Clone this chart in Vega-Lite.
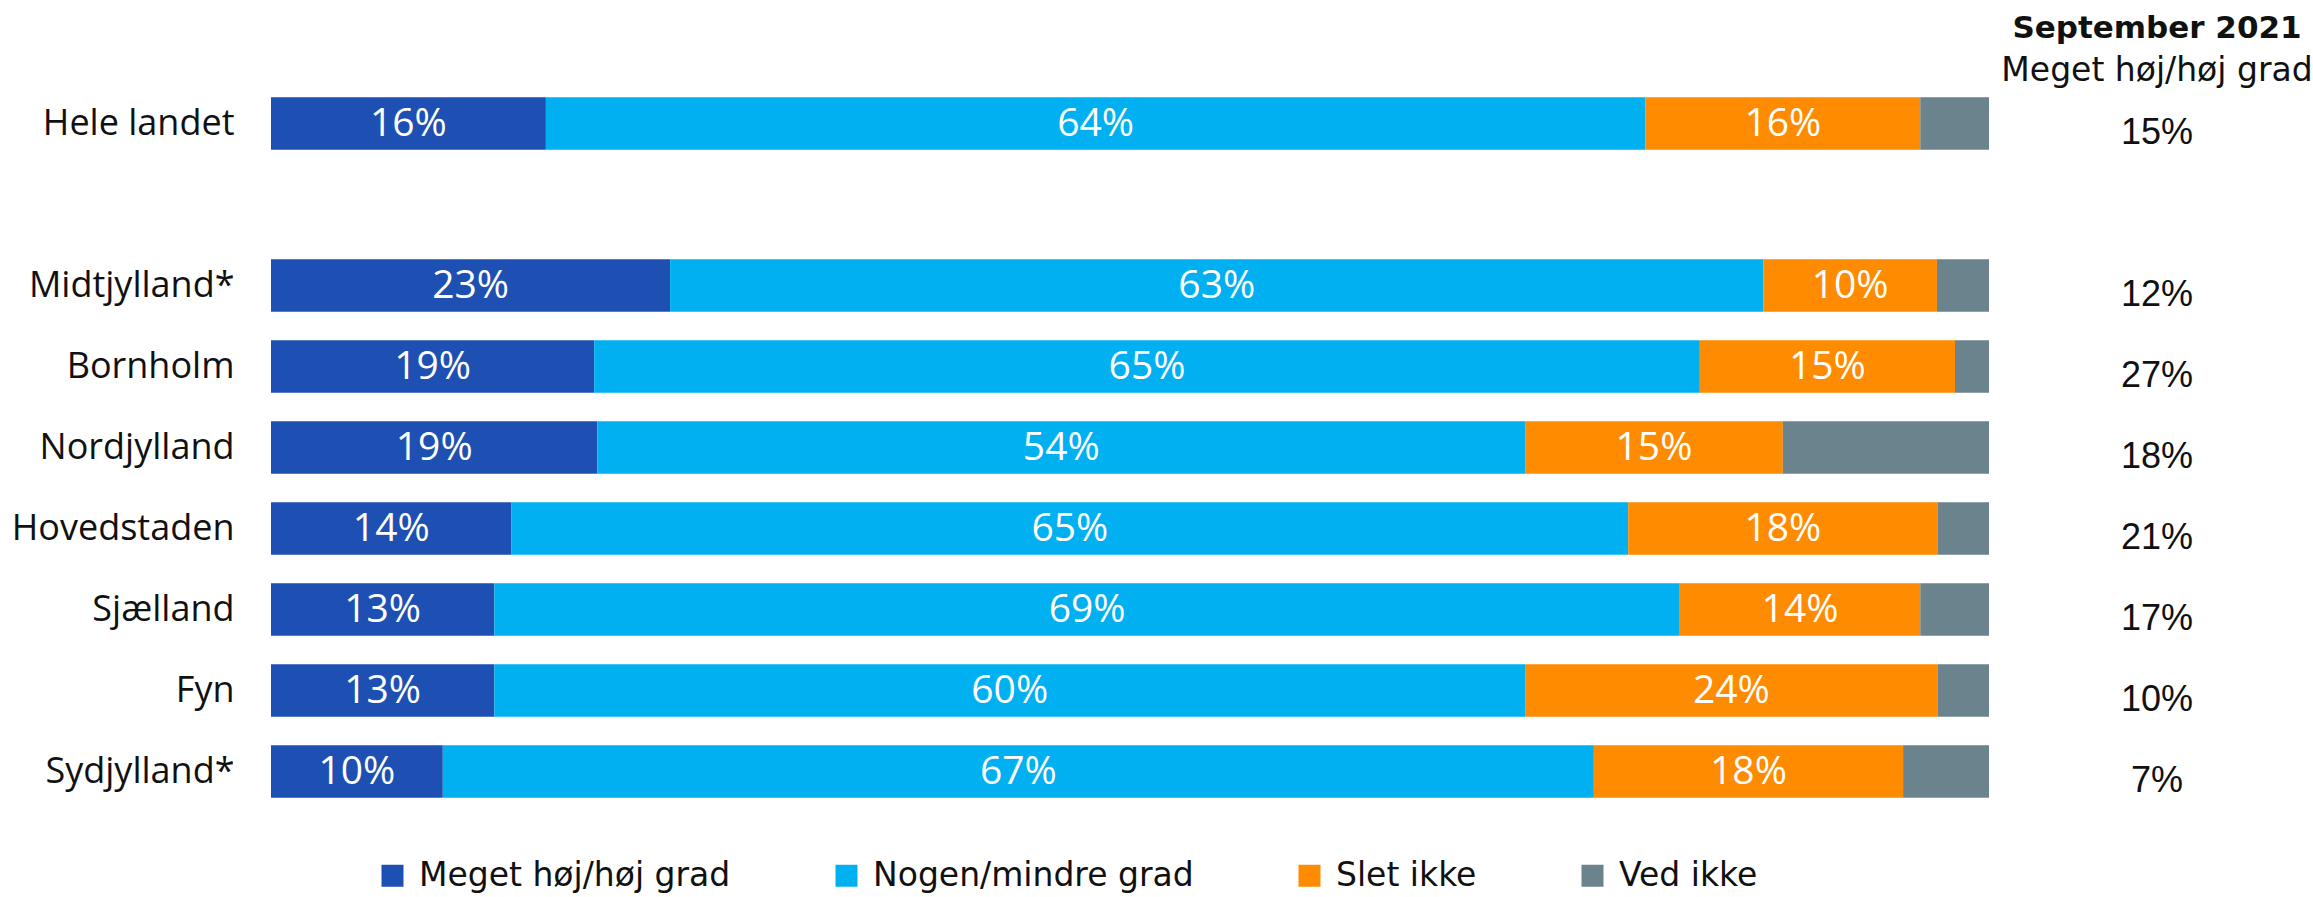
{
  "$schema": "https://vega.github.io/schema/vega-lite/v6.json",
  "background": "white",
  "padding": {"left": 11, "top": 13, "right": 0, "bottom": 0},
  "bounds": "flush",
  "spacing": 18,
  "datasets": {
    "bars": [
      {"region": "Hele landet", "category": "Meget høj/høj grad", "value": 16, "label": "16%"},
      {"region": "Hele landet", "category": "Nogen/mindre grad", "value": 64, "label": "64%"},
      {"region": "Hele landet", "category": "Slet ikke", "value": 16, "label": "16%"},
      {"region": "Hele landet", "category": "Ved ikke", "value": 4, "label": ""},
      {"region": "Midtjylland*", "category": "Meget høj/høj grad", "value": 23, "label": "23%"},
      {"region": "Midtjylland*", "category": "Nogen/mindre grad", "value": 63, "label": "63%"},
      {"region": "Midtjylland*", "category": "Slet ikke", "value": 10, "label": "10%"},
      {"region": "Midtjylland*", "category": "Ved ikke", "value": 3, "label": ""},
      {"region": "Bornholm", "category": "Meget høj/høj grad", "value": 19, "label": "19%"},
      {"region": "Bornholm", "category": "Nogen/mindre grad", "value": 65, "label": "65%"},
      {"region": "Bornholm", "category": "Slet ikke", "value": 15, "label": "15%"},
      {"region": "Bornholm", "category": "Ved ikke", "value": 2, "label": ""},
      {"region": "Nordjylland", "category": "Meget høj/høj grad", "value": 19, "label": "19%"},
      {"region": "Nordjylland", "category": "Nogen/mindre grad", "value": 54, "label": "54%"},
      {"region": "Nordjylland", "category": "Slet ikke", "value": 15, "label": "15%"},
      {"region": "Nordjylland", "category": "Ved ikke", "value": 12, "label": ""},
      {"region": "Hovedstaden", "category": "Meget høj/høj grad", "value": 14, "label": "14%"},
      {"region": "Hovedstaden", "category": "Nogen/mindre grad", "value": 65, "label": "65%"},
      {"region": "Hovedstaden", "category": "Slet ikke", "value": 18, "label": "18%"},
      {"region": "Hovedstaden", "category": "Ved ikke", "value": 3, "label": ""},
      {"region": "Sjælland", "category": "Meget høj/høj grad", "value": 13, "label": "13%"},
      {"region": "Sjælland", "category": "Nogen/mindre grad", "value": 69, "label": "69%"},
      {"region": "Sjælland", "category": "Slet ikke", "value": 14, "label": "14%"},
      {"region": "Sjælland", "category": "Ved ikke", "value": 4, "label": ""},
      {"region": "Fyn", "category": "Meget høj/høj grad", "value": 13, "label": "13%"},
      {"region": "Fyn", "category": "Nogen/mindre grad", "value": 60, "label": "60%"},
      {"region": "Fyn", "category": "Slet ikke", "value": 24, "label": "24%"},
      {"region": "Fyn", "category": "Ved ikke", "value": 3, "label": ""},
      {"region": "Sydjylland*", "category": "Meget høj/høj grad", "value": 10, "label": "10%"},
      {"region": "Sydjylland*", "category": "Nogen/mindre grad", "value": 67, "label": "67%"},
      {"region": "Sydjylland*", "category": "Slet ikke", "value": 18, "label": "18%"},
      {"region": "Sydjylland*", "category": "Ved ikke", "value": 5, "label": ""}
    ],
    "sept": [
      {"region": "Hele landet", "label": "15%"},
      {"region": "Midtjylland*", "label": "12%"},
      {"region": "Bornholm", "label": "27%"},
      {"region": "Nordjylland", "label": "18%"},
      {"region": "Hovedstaden", "label": "21%"},
      {"region": "Sjælland", "label": "17%"},
      {"region": "Fyn", "label": "10%"},
      {"region": "Sydjylland*", "label": "7%"}
    ]
  },
  "hconcat": [
    {
      "width": 1718,
      "height": 729,
      "data": {"name": "bars"},
      "encoding": {
        "y": {
          "field": "region",
          "type": "nominal",
          "scale": {
            "domain": ["Hele landet", " ", "Midtjylland*", "Bornholm", "Nordjylland", "Hovedstaden", "Sjælland", "Fyn", "Sydjylland*"],
            "paddingInner": 0.35,
            "paddingOuter": 0.175
          },
          "axis": {
            "title": null,
            "domain": false,
            "ticks": false,
            "tickSize": 0,
            "labelPadding": 37,
            "labelFont": "Open Sans",
            "labelFontSize": 36,
            "labelColor": "#111111",
            "labelLimit": 400
          }
        }
      },
      "layer": [
        {
          "mark": {"type": "bar"},
          "encoding": {
            "x": {"field": "value", "type": "quantitative", "stack": "normalize", "axis": null, "scale": {"domain": [0, 1], "nice": false}},
            "order": {"field": "category", "type": "nominal", "sort": "ascending"},
            "color": {
              "field": "category",
              "type": "nominal",
              "scale": {
                "domain": ["Meget høj/høj grad", "Nogen/mindre grad", "Slet ikke", "Ved ikke"],
                "range": ["#1d50b2", "#00b0f0", "#ff8b00", "#6b838c"]
              },
              "legend": {
                "title": null,
                "orient": "none",
                "direction": "horizontal",
                "legendX": 105,
                "legendY": 776,
                "symbolType": "square",
                "symbolSize": 484,
                "symbolStrokeWidth": 0,
                "symbolOpacity": 1,
                "labelFont": "DejaVu Sans",
                "labelFontSize": 33,
                "labelColor": "#111111",
                "labelOffset": 10,
                "columnPadding": 99,
                "padding": 0,
                "labelLimit": 500
              }
            }
          }
        },
        {
          "mark": {"type": "text", "color": "white", "font": "Open Sans", "fontSize": 39, "baseline": "middle", "align": "center"},
          "encoding": {
            "x": {"field": "value", "type": "quantitative", "stack": "normalize", "bandPosition": 0.5},
            "order": {"field": "category", "type": "nominal", "sort": "ascending"},
            "detail": {"field": "category"},
            "text": {"field": "label"}
          }
        }
      ]
    },
    {
      "width": 300,
      "height": 729,
      "data": {"name": "sept"},
      "title": {
        "text": "September 2021",
        "subtitle": "Meget høj/høj grad",
        "anchor": "middle",
        "font": "DejaVu Sans",
        "fontSize": 31,
        "fontWeight": "bold",
        "color": "#111111",
        "subtitleFont": "DejaVu Sans",
        "subtitleFontSize": 33,
        "subtitleColor": "#111111",
        "subtitlePadding": 10,
        "offset": -6
      },
      "mark": {"type": "text", "font": "Liberation Sans", "fontSize": 36, "color": "#111111", "baseline": "middle", "align": "center", "dy": 9},
      "encoding": {
        "y": {
          "field": "region",
          "type": "nominal",
          "scale": {
            "domain": ["Hele landet", " ", "Midtjylland*", "Bornholm", "Nordjylland", "Hovedstaden", "Sjælland", "Fyn", "Sydjylland*"],
            "paddingInner": 0.35,
            "paddingOuter": 0.175
          },
          "axis": null
        },
        "text": {"field": "label"}
      }
    }
  ],
  "config": {
    "view": {"stroke": null},
    "axis": {"grid": false}
  }
}
